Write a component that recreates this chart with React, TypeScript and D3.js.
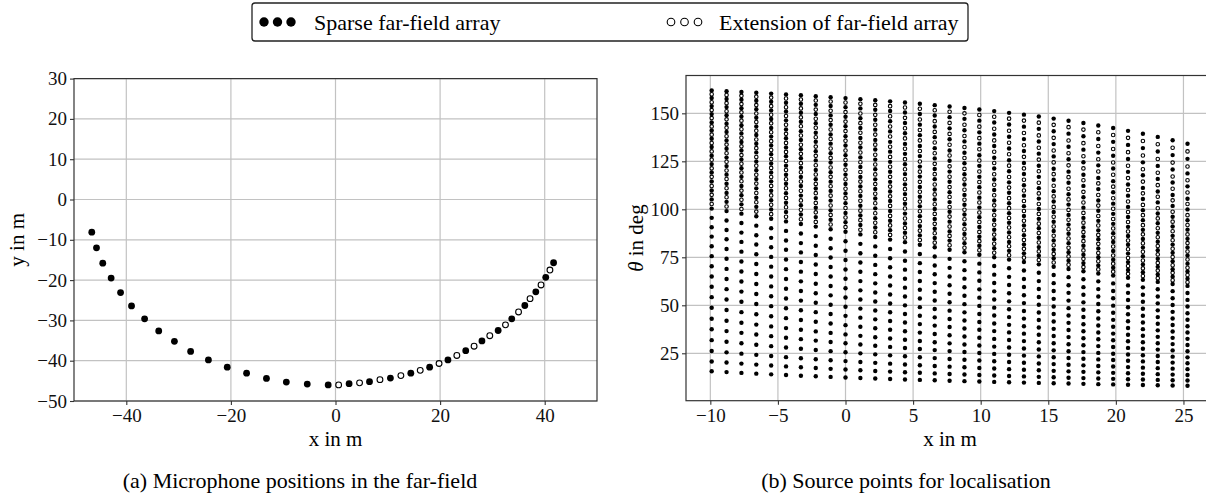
import * as d3 from "d3";
import React, { useEffect, useRef } from "react";

// microphone positions, in m
const sparseX = [-46.6, -45.7, -44.5, -42.9, -41.1, -39.0, -36.5, -33.8, -30.8, -27.7, -24.3, -20.7, -17.0, -13.2, -9.4, -5.4, -1.4,
    2.6, 6.5, 10.5, 14.4, 18.0, 21.5, 24.9, 28.0, 31.1, 33.7, 36.2, 38.3, 40.2, 41.7];
const sparseY = [-8.1, -12.0, -15.8, -19.5, -23.1, -26.4, -29.6, -32.6, -35.2, -37.7, -39.8, -41.6, -43.1, -44.4, -45.3, -45.8, -46.0,
    -45.7, -45.2, -44.3, -43.1, -41.6, -39.8, -37.5, -35.1, -32.5, -29.6, -26.3, -22.9, -19.3, -15.7];
const extX = [0.6, 4.6, 8.5, 12.5, 16.2, 19.8, 23.2, 26.5, 29.5, 32.5, 35.0, 37.2, 39.3, 41.0];
const extY = [-46.0, -45.5, -44.7, -43.7, -42.4, -40.7, -38.7, -36.4, -33.8, -31.1, -27.9, -24.6, -21.2, -17.5];

// source point columns of panel (b), in m, and their height above the array
const sourceX = [-9.9, -8.8, -7.7, -6.6, -5.5, -4.4, -3.3, -2.2, -1.1, 0, 1.1, 2.2, 3.3, 4.4, 5.5, 6.6, 7.7,
    8.8, 9.9, 11.0, 12.1, 13.2, 14.3, 15.4, 16.5, 17.6, 18.7, 19.8, 20.9, 22.0, 23.1, 24.2, 25.3];
const sourceHeight = 6.3;

const leftXTicks = [-40, -20, 0, 20, 40];
const leftYTicks = [-50, -40, -30, -20, -10, 0, 10, 20, 30];
const rightXTicks = [-10, -5, 0, 5, 10, 15, 20, 25];
const rightYTicks = [25, 50, 75, 100, 125, 150];

const legendLabels = ["Sparse far-field array", "Extension of far-field array"];
const captions = ["(a)  Microphone positions in the far-field", "(b)  Source points for localisation"];

const FONT = "'Liberation Serif', serif";

// angle between flight direction and source -> microphone
function theta(xs: number, mx: number, my: number) {
    const dx = xs - mx;
    const d = Math.sqrt(dx * dx + my * my + sourceHeight * sourceHeight);
    return Math.acos(dx / d) * 180 / Math.PI;
}

function App() {
    const svgRef: any = useRef<any>(null);

    useEffect(() => {
        const svg = d3.select(svgRef.current);
        svg.selectAll("*").remove();

        const drawAxes = (g: any, x: any, y: any, xTicks: number[], yTicks: number[], box: any) => {
            const grid = g.append("g").attr("stroke", "#c2c2c2").attr("stroke-width", 1.2);
            xTicks.forEach(t => grid.append("line")
                .attr("x1", x(t)).attr("x2", x(t)).attr("y1", box.top).attr("y2", box.bottom));
            yTicks.forEach(t => grid.append("line")
                .attr("x1", box.left).attr("x2", box.right).attr("y1", y(t)).attr("y2", y(t)));

            const ax = g.append("g")
                .attr("transform", `translate(0,${box.bottom})`)
                .call(d3.axisBottom(x).tickValues(xTicks).tickSize(4).tickSizeOuter(0).tickPadding(4));
            const ay = g.append("g")
                .attr("transform", `translate(${box.left},0)`)
                .call(d3.axisLeft(y).tickValues(yTicks).tickSize(4).tickSizeOuter(0).tickPadding(3));
            [ax, ay].forEach(a => {
                a.select(".domain").remove();
                a.selectAll("line").attr("stroke", "#333").attr("stroke-width", 1.1);
                a.selectAll("text").attr("font-family", FONT).attr("font-size", 19).attr("fill", "#111");
            });
        };

        const drawSpines = (g: any, box: any) => {
            g.append("rect")
                .attr("x", box.left).attr("y", box.top)
                .attr("width", box.right - box.left).attr("height", box.bottom - box.top)
                .attr("fill", "none").attr("stroke", "#333").attr("stroke-width", 1.2);
        };

        // ---- panel (a)
        const boxA = { left: 74, right: 597, top: 78.6, bottom: 401 };
        const xA = d3.scaleLinear().domain([-50, 50]).range([boxA.left, boxA.right]);
        const yA = d3.scaleLinear().domain([-50, 30]).range([boxA.bottom, boxA.top]);
        const gA = svg.append("g");
        drawAxes(gA, xA, yA, leftXTicks, leftYTicks, boxA);

        gA.append("g").selectAll("circle").data(d3.range(sparseX.length)).join("circle")
            .attr("cx", (i: number) => xA(sparseX[i])).attr("cy", (i: number) => yA(sparseY[i]))
            .attr("r", 3.4).attr("fill", "#000");
        gA.append("g").selectAll("circle").data(d3.range(extX.length)).join("circle")
            .attr("cx", (i: number) => xA(extX[i])).attr("cy", (i: number) => yA(extY[i]))
            .attr("r", 2.9).attr("fill", "#fff").attr("stroke", "#000").attr("stroke-width", 1.1);
        drawSpines(gA, boxA);

        gA.append("text").attr("x", (boxA.left + boxA.right) / 2).attr("y", 446)
            .attr("text-anchor", "middle").attr("font-family", FONT).attr("font-size", 21).text("x in m");
        gA.append("text").attr("transform", `translate(24,${(boxA.top + boxA.bottom) / 2}) rotate(-90)`)
            .attr("text-anchor", "middle").attr("font-family", FONT).attr("font-size", 21).text("y in m");

        // ---- panel (b)
        const boxB = { left: 686, right: 1211.3, top: 75.5, bottom: 400.7 };
        const xB = d3.scaleLinear().domain([-11.8, 27.06]).range([boxB.left, boxB.right]);
        const yB = d3.scaleLinear().domain([0.3, 169.7]).range([boxB.bottom, boxB.top]);
        const gB = svg.append("g");
        drawAxes(gB, xB, yB, rightXTicks, rightYTicks, boxB);

        const filledPts: [number, number][] = [];
        const openPts: [number, number][] = [];
        sourceX.forEach(xs => {
            sparseX.forEach((mx, i) => filledPts.push([xs, theta(xs, mx, sparseY[i])]));
            extX.forEach((mx, i) => openPts.push([xs, theta(xs, mx, extY[i])]));
        });
        gB.append("g").selectAll("circle").data(filledPts).join("circle")
            .attr("cx", (d: any) => xB(d[0])).attr("cy", (d: any) => yB(d[1]))
            .attr("r", 2.2).attr("fill", "#000");
        gB.append("g").selectAll("circle").data(openPts).join("circle")
            .attr("cx", (d: any) => xB(d[0])).attr("cy", (d: any) => yB(d[1]))
            .attr("r", 1.75).attr("fill", "#fff").attr("stroke", "#000").attr("stroke-width", 1.1);
        drawSpines(gB, boxB);

        gB.append("text").attr("x", 950).attr("y", 446)
            .attr("text-anchor", "middle").attr("font-family", FONT).attr("font-size", 21).text("x in m");
        const yl = gB.append("text").attr("transform", `translate(643,${(boxB.top + boxB.bottom) / 2}) rotate(-90)`)
            .attr("text-anchor", "middle").attr("font-family", FONT).attr("font-size", 21);
        yl.append("tspan").attr("font-style", "italic").text("θ");
        yl.append("tspan").text(" in deg");

        // ---- legend
        const lg = svg.append("g");
        lg.append("rect").attr("x", 252).attr("y", 3).attr("width", 716).attr("height", 38).attr("rx", 3)
            .attr("fill", "#fff").attr("stroke", "#222").attr("stroke-width", 1.3);
        [264, 277.5, 291].forEach(cx => lg.append("circle").attr("cx", cx).attr("cy", 22).attr("r", 4.7).attr("fill", "#000"));
        [671, 684.5, 698].forEach(cx => lg.append("circle").attr("cx", cx).attr("cy", 22).attr("r", 3.8)
            .attr("fill", "#fff").attr("stroke", "#000").attr("stroke-width", 1.1));
        lg.append("text").attr("x", 314).attr("y", 29.5).attr("font-family", FONT).attr("font-size", 22).text(legendLabels[0]);
        lg.append("text").attr("x", 719).attr("y", 29.5).attr("font-family", FONT).attr("font-size", 22).text(legendLabels[1]);

        // ---- captions
        svg.append("text").attr("x", 300).attr("y", 488).attr("text-anchor", "middle")
            .attr("font-family", FONT).attr("font-size", 22).text(captions[0]);
        svg.append("text").attr("x", 906).attr("y", 488).attr("text-anchor", "middle")
            .attr("font-family", FONT).attr("font-size", 22).text(captions[1]);
    }, []);

    return (
        <div style={{ position: "fixed", left: 0, top: 0, width: 1206, height: 497, overflow: "hidden", background: "#fff" }}>
            <svg ref={svgRef} width={1206} height={497} style={{ display: "block" }} />
        </div>
    );
}

export default App;
